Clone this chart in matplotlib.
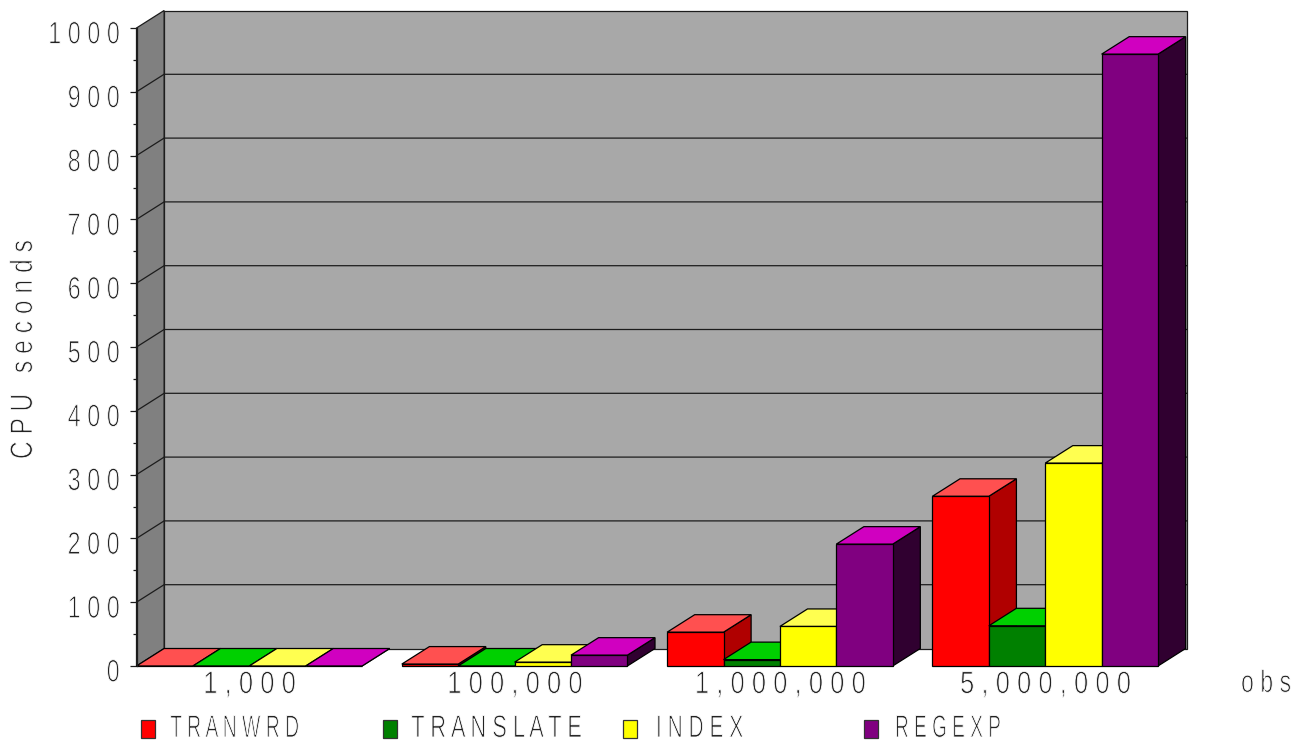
import matplotlib
matplotlib.use('Agg')
import matplotlib.pyplot as plt
import matplotlib.patheffects as pe
from matplotlib.patches import Polygon, Rectangle
from matplotlib.transforms import Affine2D, ScaledTranslation

# CPU seconds per function and data set size
groups = ['1,000', '100,000', '1,000,000', '5,000,000']
series = ['TRANWRD', 'TRANSLATE', 'INDEX', 'REGEXP']
tranwrd = [0, 3, 53, 266]
translate = [0, 0, 10, 63]
index = [0, 6, 62, 318]
regexp = [0, 17, 191, 959]
yticks = [0, 100, 200, 300, 400, 500, 600, 700, 800, 900, 1000]

front_colors = ['#ff0000', '#008000', '#ffff00', '#800080']
top_colors = ['#ff5050', '#00d000', '#ffff50', '#d000c0']
side_colors = ['#b00000', '#005000', '#b0b000', '#300030']

W, H = 1302, 746
BAR_PX = 56.4
Y_PX = 0.638
DX = 27.6 / BAR_PX      # depth of the 3D effect in x units
DY = 17.5 / Y_PX        # and in CPU seconds
GROUP_STEP = 4.704
WALL_RIGHT = 18.63
LINE = '#1c1c1c'
TEXT = '#222222'
FONT = 22.5

plt.rcParams['font.family'] = ['Liberation Sans', 'DejaVu Sans']


class ThinText(pe.AbstractPathEffect):
    """Squeeze glyphs sideways and shave their outline for a light condensed look."""

    def __init__(self, sx, anchor):
        super().__init__()
        self.sx = sx
        self.anchor = anchor

    def draw_path(self, renderer, gc, tpath, affine, rgbFace=None):
        ext = tpath.get_extents()
        x = {'left': ext.x0, 'center': (ext.x0 + ext.x1) / 2, 'right': ext.x1}[self.anchor]
        squeeze = Affine2D().translate(-x, 0).scale(self.sx, 1).translate(x, 0)
        gc0 = renderer.new_gc()
        gc0.copy_properties(gc)
        gc0.set_linewidth(0.6)
        gc0.set_foreground('white')
        renderer.draw_path(gc0, tpath, squeeze + affine, rgbFace)
        gc0.restore()


def spaced(s):
    return ' '.join(s)


fig = plt.figure(figsize=(W / 100, H / 100), dpi=100, facecolor='white')
ax = fig.add_axes([0, 0, 1, 1])
ax.set_xlim(-136.5 / BAR_PX, (W - 136.5) / BAR_PX)
ax.set_ylim(-(H - 666) / Y_PX, 666 / Y_PX)
ax.patch.set_visible(False)

# back wall, side wall and grid
ax.add_patch(Polygon([(DX, DY), (WALL_RIGHT, DY), (WALL_RIGHT, 1000 + DY), (DX, 1000 + DY)],
                     fc='#a8a8a8', ec=LINE, lw=0.9, zorder=1))
ax.add_patch(Polygon([(0, 0), (DX, DY), (DX, 1000 + DY), (0, 1000)],
                     fc='#808080', ec=LINE, lw=0.9, zorder=1))
for v in yticks[1:-1]:
    ax.plot([0, DX, WALL_RIGHT], [v, v + DY, v + DY], color=LINE, lw=0.9, zorder=2)

# bars, left to right so each one covers the side of the previous one
values = [tranwrd, translate, index, regexp]
z = 3
for g in range(len(groups)):
    for s in range(len(series)):
        x0 = g * GROUP_STEP + s
        v = values[s][g]
        ax.add_patch(Polygon([(x0 + 1, 0), (x0 + 1 + DX, DY), (x0 + 1 + DX, v + DY), (x0 + 1, v)],
                             fc=side_colors[s], ec='black', lw=0.9, zorder=z))
        ax.add_patch(Polygon([(x0, v), (x0 + DX, v + DY), (x0 + 1 + DX, v + DY), (x0 + 1, v)],
                             fc=top_colors[s], ec='black', lw=0.9, zorder=z))
        ax.add_patch(Rectangle((x0, 0), 1, v, fc=front_colors[s], ec='black', lw=0.9, zorder=z))
        z += 1

# axes
for name in ['top', 'right']:
    ax.spines[name].set_visible(False)
ax.spines['left'].set_position(('data', 0))
ax.spines['left'].set_bounds(0, 1000)
ax.spines['left'].set_linewidth(0.9)
ax.spines['left'].set_color(LINE)
ax.spines['left'].set_zorder(50)
ax.spines['bottom'].set_position(('data', 0))
ax.spines['bottom'].set_visible(False)

ax.set_yticks(yticks)
ax.set_yticklabels([spaced(str(v)) for v in yticks])
ax.set_yticks([v + 50 for v in yticks[:-1]], minor=True)
ax.tick_params(axis='y', which='major', length=5.4, width=0.9, color=LINE, pad=6.5,
               labelsize=FONT, labelcolor=TEXT)
ax.tick_params(axis='y', which='minor', length=2.6, width=0.9, color=LINE)
down = ScaledTranslation(0, -4 / 100, fig.dpi_scale_trans)
for lab in ax.get_yticklabels():
    lab.set_transform(lab.get_transform() + down)
    lab.set_path_effects([ThinText(0.75, 'right')])

ax.set_xticks([g * GROUP_STEP + 2 for g in range(len(groups))])
ax.set_xticklabels([spaced(g) for g in groups])
ax.tick_params(axis='x', length=0, pad=3, labelsize=FONT, labelcolor=TEXT)
for lab in ax.get_xticklabels():
    lab.set_path_effects([ThinText(0.82, 'center')])

# axis titles and legend are placed in pixels from the top left corner
px = Affine2D().scale(1 / W, -1 / H).translate(0, 1) + fig.transFigure
ax.text(24, 350, spaced('CPU seconds'), rotation=90, ha='center', va='center', fontsize=FONT,
        color=TEXT, transform=px, path_effects=[ThinText(0.79, 'center')])
ax.text(1266, 684, spaced('obs'), ha='center', va='center', fontsize=FONT,
        color=TEXT, transform=px, path_effects=[ThinText(0.74, 'center')])

legend_box_x = [141, 383, 623, 864]
legend_text_x = [170, 411, 655, 894]
legend_squeeze = [0.62, 0.70, 0.67, 0.61]
for s, name in enumerate(series):
    ax.add_patch(Rectangle((legend_box_x[s], 720), 14, 18, fc=front_colors[s], ec='#333333',
                           lw=0.9, transform=px, zorder=60))
    ax.text(legend_text_x[s], 729, spaced(name), ha='left', va='center', fontsize=FONT,
            color=TEXT, transform=px, path_effects=[ThinText(legend_squeeze[s], 'left')])

fig.savefig('out.png', dpi=100, facecolor='white')
